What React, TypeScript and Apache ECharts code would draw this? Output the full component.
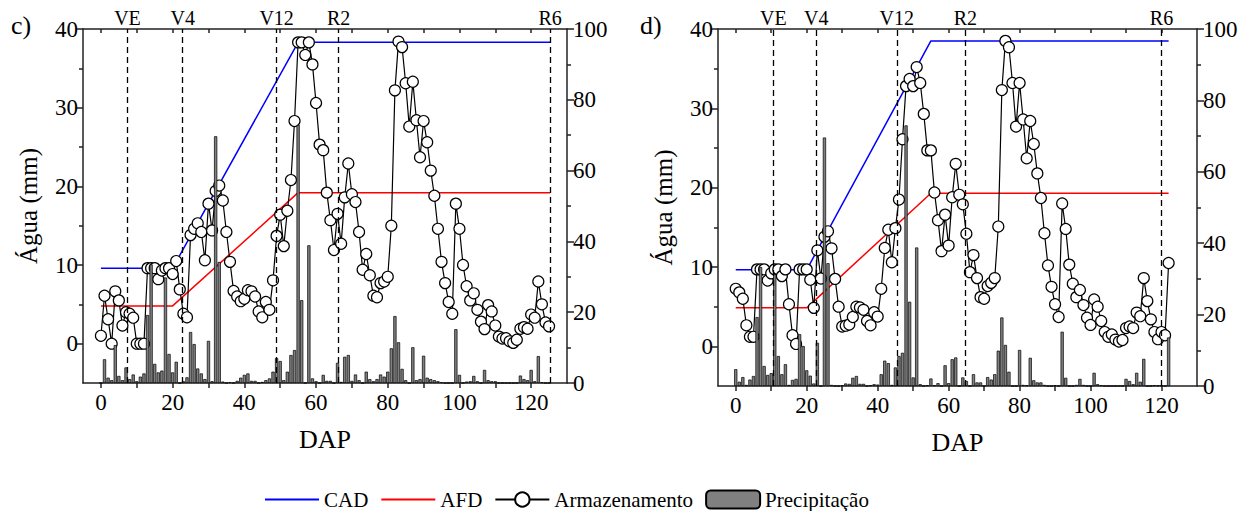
import React, { useEffect, useRef } from "react";
import * as echarts from "echarts";

const FONT = "Liberation Serif, Tinos, Times New Roman, DejaVu Serif, Noto Serif, serif";

// ---------- data ----------
const panelLabels = ["c)", "d)"];
const phaseNames = ["VE", "V4", "V12", "R2", "R6"];
const phaseDapC = [7.4, 22.8, 49.0, 66.3, 125.3];
const phaseDapD = [10.6, 22.7, 45.4, 64.7, 120.0];

const limitDapC = [0, 20, 55, 125.3];
const cadC = [9.6, 9.6, 38.3, 38.3];
const afdC = [4.8, 4.8, 19.2, 19.2];
const limitDapD = [0, 20, 55, 122];
const cadD = [9.65, 9.65, 38.5, 38.5];
const afdD = [4.85, 4.85, 19.3, 19.3];

// Armazenamento (mm), DAP 0..125 (panel c)
const storageC = [
  1.0, 6.1, 3.1, 0.0, 6.65, 5.5, 2.3, 4.0, 3.8, 3.3,
  0.0, 0.0, 0.0, 9.6, 9.6, 9.6, 8.2, 9.3, 9.6, 9.6,
  8.85, 10.5, 6.9, 3.8, 3.35, 13.8, 14.6, 15.3, 14.2, 10.6,
  17.8, 14.4, 19.4, 20.1, 18.2, 14.2, 10.4, 6.7, 6.0, 5.4,
  5.7, 6.8, 6.65, 6.0, 4.1, 3.35, 5.3, 4.3, 8.05, 13.7,
  16.4, 12.4, 16.9, 20.8, 28.3, 38.3, 38.3, 36.7, 38.3, 35.5,
  30.6, 25.3, 24.6, 19.2, 15.7, 11.9, 16.5, 12.7, 18.6, 22.9,
  19.0, 18.0, 14.2, 9.4, 11.4, 8.7, 6.1, 5.9, 7.7, 7.9,
  8.5, 15.0, 32.2, 38.4, 37.7, 33.1, 27.6, 33.3, 28.4, 23.7,
  28.3, 25.6, 22.0, 18.8, 14.6, 10.4, 7.7, 5.3, 3.8, 17.8,
  14.6, 10.0, 7.3, 5.5, 6.4, 4.3, 2.8, 1.85, 4.9, 4.1,
  2.3, 0.9, 0.66, 0.7, 0.3, 0.1, 0.5, 1.9, 2.1, 1.9,
  3.7, 3.3, 7.9, 5.0, 2.7, 2.2,
];

// Precipitação (mm), DAP 0..125 (panel c)
const precipC = [
  0, 6.7, 1.5, 0.8, 10.7, 2.0, 0.8, 4.4, 1.1, 2.4,
  0.5, 1.8, 2.7, 19.2, 33.5, 5.4, 3.0, 3.5, 29.8, 8.2,
  3.0, 6.0, 0, 0.5, 1.6, 14.4, 11.0, 4.1, 2.7, 1.1,
  11.9, 0.5, 69.7, 34.2, 0.4, 0, 0.2, 0, 0.6, 1.5,
  2.3, 2.7, 0.6, 0.6, 0, 0.3, 0.8, 1.3, 3.2, 7.0,
  6.2, 0.8, 3.2, 7.9, 9.3, 72.9, 23.4, 0, 38.9, 1.3,
  0.5, 0, 2.3, 0.6, 0.6, 0, 5.7, 0.3, 7.4, 7.9,
  0.6, 2.4, 0.8, 0, 3.2, 1.1, 0.5, 1.1, 2.4, 1.8,
  3.2, 9.8, 18.9, 11.5, 4.0, 0.8, 0, 10.1, 0.8, 1.1,
  7.7, 1.5, 1.1, 0.8, 0.5, 0.2, 0, 0, 0, 15.2,
  2.3, 0, 0.4, 0.5, 2.0, 0.5, 0, 3.7, 0.8, 0.5,
  0.5, 0, 0, 0, 0, 0, 0, 2.1, 1.1, 0.8,
  3.7, 0.5, 7.6, 0.2, 0, 0,
];

// Armazenamento (mm), DAP 0..122 (panel d)
const storageD = [
  7.25, 6.8, 6.0, 2.65, 1.2, 1.2, 9.7, 9.7, 9.7, 8.3,
  9.2, 9.7, 9.7, 8.85, 9.7, 5.3, 1.4, 0.3, 9.7, 9.7,
  9.7, 8.4, 4.85, 12.1, 8.55, 13.8, 14.5, 12.35, 8.5, 5.0,
  2.5, 2.6, 2.75, 3.7, 5.0, 4.9, 4.6, 3.2, 2.65, 4.3,
  3.75, 7.25, 12.4, 14.7, 10.6, 14.9, 18.5, 26.1, 32.8, 33.7,
  32.8, 35.2, 33.2, 29.3, 24.7, 24.7, 19.4, 15.9, 12.0, 16.6,
  12.7, 18.8, 23.0, 19.1, 17.9, 14.2, 9.35, 11.5, 8.6, 6.2,
  6.0, 7.6, 8.0, 8.6, 15.1, 32.3, 38.5, 37.7, 33.2, 27.7,
  33.2, 28.6, 23.7, 28.4, 25.5, 21.8, 18.7, 14.25, 10.2, 7.5,
  5.3, 3.7, 18.0, 14.8, 10.3, 7.9, 6.2, 7.1, 5.2, 3.6,
  2.7, 5.9, 5.0, 3.2, 1.8, 1.2, 1.5, 0.85, 0.6, 0.8,
  2.3, 2.5, 2.3, 4.25, 3.8, 8.6, 5.7, 3.4, 1.8, 0.9,
  1.8, 1.4, 10.5,
];

// Precipitação (mm), DAP 0..122 (panel d)
const precipD = [
  4.7, 1.2, 2.5, 0.3, 1.8, 2.8, 19.3, 33.3, 5.6, 3.1,
  3.6, 31.3, 8.4, 3.3, 6.1, 0.3, 1.7, 2.0, 14.5, 11.2,
  4.4, 2.9, 0.7, 12.1, 0, 69.6, 34.4, 0.3, 0, 0,
  0.2, 0.7, 0.6, 2.3, 2.8, 0.6, 0.6, 0, 0.2, 0.5,
  0.4, 3.3, 7.1, 6.4, 0.3, 5.2, 8.4, 9.3, 73.0, 23.6,
  2.4, 38.8, 0.5, 0, 0.2, 2.1, 0.2, 0.8, 0, 5.8,
  0.8, 7.5, 8.0, 0, 2.4, 1.4, 0, 3.3, 1.0, 1.0,
  0, 2.5, 1.8, 3.3, 9.9, 19.2, 11.5, 4.0, 0, 0,
  10.1, 0.3, 0.2, 7.9, 1.6, 1.0, 1.0, 0.3, 0, 0,
  0.2, 0, 15.2, 2.3, 0, 0, 0.3, 2.0, 0.3, 0,
  0, 3.7, 0.5, 0.2, 0, 0, 0, 0, 0, 0,
  2.0, 1.4, 0.5, 3.7, 1.2, 7.6, 0, 0, 0.2, 0.1,
  0.1, 0, 13.6,
];

// tick values
const xLabelValues = [0, 20, 40, 60, 80, 100, 120];
const xTickValues = [0, 10, 20, 30, 40, 50, 60, 70, 80, 90, 100, 110, 120];
const yLeftValues = [0, 10, 20, 30, 40];
const yLeftMinor = [5, 15, 25, 35];
const legendNames = ["CAD", "AFD", "Armazenamento", "Precipitação"];

const AX = { color: "#222", width: 1.5 };

function App() {
  const ref = useRef<HTMLDivElement>(null);

  useEffect(() => {
    if (!ref.current) return;
    const chart = echarts.init(ref.current, null, { renderer: "svg" });

    const grids = [
      { left: 83, top: 29, width: 484, height: 354 },
      { left: 718, top: 29, width: 479, height: 357 },
    ];

    const xAxes: any[] = [];
    const yAxes: any[] = [];
    const series: any[] = [];

    const panels = [
      { storage: storageC, precip: precipC, lx: limitDapC, cad: cadC, afd: afdC, ph: phaseDapC },
      { storage: storageD, precip: precipD, lx: limitDapD, cad: cadD, afd: afdD, ph: phaseDapD },
    ];

    panels.forEach((pd, p) => {
      xAxes.push({
        gridIndex: p,
        type: "value",
        position: "bottom",
        min: -5,
        max: 130,
        axisLine: { show: true, onZero: false, lineStyle: AX },
        axisTick: { show: true, customValues: xTickValues, length: 5, lineStyle: AX },
        axisLabel: {
          customValues: xLabelValues,
          fontSize: 23,
          color: "#000",
          fontFamily: FONT,
          margin: 8,
        },
        splitLine: { show: false },
        name: "DAP",
        nameLocation: "middle",
        nameGap: 43,
        nameTextStyle: { fontSize: 26, color: "#000", fontFamily: FONT },
      });
      xAxes.push({
        gridIndex: p,
        type: "value",
        position: "top",
        min: -5,
        max: 130,
        axisLine: { show: true, onZero: false, lineStyle: AX },
        axisTick: { show: true, inside: true, customValues: xTickValues, length: 4, lineStyle: AX },
        axisLabel: { show: false },
        splitLine: { show: false },
      });
      yAxes.push({
        gridIndex: p,
        type: "value",
        position: "left",
        min: -5,
        max: 40,
        axisLine: { show: true, onZero: false, lineStyle: AX },
        axisTick: { show: true, customValues: yLeftValues, length: 7, lineStyle: AX },
        axisLabel: {
          customValues: yLeftValues,
          fontSize: 23,
          color: "#000",
          fontFamily: FONT,
          margin: 5,
        },
        splitLine: { show: false },
        name: "Água (mm)",
        nameLocation: "middle",
        nameGap: 42,
        nameTextStyle: { fontSize: 25, color: "#000", fontFamily: FONT },
      });
      yAxes.push({
        gridIndex: p,
        type: "value",
        position: "right",
        min: 0,
        max: 100,
        interval: 20,
        axisLine: { show: true, onZero: false, lineStyle: AX },
        axisTick: { show: true, length: 7, lineStyle: AX },
        minorTick: { show: true, splitNumber: 2, length: 4, lineStyle: AX },
        axisLabel: { fontSize: 23, color: "#000", fontFamily: FONT, margin: 6 },
        splitLine: { show: false },
        minorSplitLine: { show: false },
      });
      yAxes.push({
        gridIndex: p,
        type: "value",
        position: "left",
        min: -5,
        max: 40,
        axisLine: { show: false, onZero: false },
        axisTick: { show: true, customValues: yLeftMinor, length: 4, lineStyle: AX },
        axisLabel: { show: false },
        splitLine: { show: false },
      });

      const xb = 2 * p;
      const yl = 3 * p;
      const yr = 3 * p + 1;

      series.push({
        name: "CAD",
        type: "line",
        xAxisIndex: xb,
        yAxisIndex: yl,
        data: pd.lx.map((x, i) => [x, pd.cad[i]]),
        symbol: "none",
        lineStyle: { color: "#0000ff", width: 1.5 },
        itemStyle: { color: "#0000ff" },
        z: 2,
      });
      series.push({
        name: "AFD",
        type: "line",
        xAxisIndex: xb,
        yAxisIndex: yl,
        data: pd.lx.map((x, i) => [x, pd.afd[i]]),
        symbol: "none",
        lineStyle: { color: "#ff0000", width: 1.5 },
        itemStyle: { color: "#ff0000" },
        z: 2,
      });
      series.push({
        name: "Armazenamento",
        type: "line",
        xAxisIndex: xb,
        yAxisIndex: yl,
        data: pd.storage.map((v, i) => [i, v]),
        symbol: "circle",
        symbolSize: 11,
        itemStyle: { color: "#ffffff", borderColor: "#000", borderWidth: 1.2 },
        lineStyle: { color: "#000", width: 1.2 },
        z: 3,
        markLine: {
          silent: true,
          symbol: ["none", "none"],
          lineStyle: { color: "#000", type: [6, 4], width: 1.3 },
          label: {
            show: true,
            position: "end",
            formatter: "{b}",
            color: "#000",
            fontFamily: FONT,
            fontSize: 20,
            distance: 1,
          },
          data: pd.ph.map((x, i) => ({ name: phaseNames[i], xAxis: x })),
        },
      });
      series.push({
        name: "Precipitação",
        type: "bar",
        xAxisIndex: xb,
        yAxisIndex: yr,
        data: pd.precip.map((v, i) => [i, v]),
        barWidth: 3.2,
        itemStyle: { color: "#808080", borderColor: "#000", borderWidth: 0.7 },
        z: 4,
      });
    });

    const option: any = {
      animation: false,
      backgroundColor: "#ffffff",
      grid: grids,
      xAxis: xAxes,
      yAxis: yAxes,
      series,
      legend: {
        data: [
          { name: legendNames[0], itemStyle: { opacity: 0 } },
          { name: legendNames[1], itemStyle: { opacity: 0 } },
          { name: legendNames[2] },
          { name: legendNames[3] },
        ],
        left: 259,
        top: 484,
        itemWidth: 54,
        itemHeight: 18,
        itemGap: 12,
        textStyle: { fontSize: 21, color: "#000", fontFamily: FONT },
      },
      graphic: [
        { type: "text", left: 11, top: 12, style: { text: panelLabels[0], fontSize: 26, fontFamily: FONT, fill: "#000" } },
        { type: "text", left: 640, top: 12, style: { text: panelLabels[1], fontSize: 26, fontFamily: FONT, fill: "#000" } },
      ],
    };

    chart.setOption(option);
    return () => chart.dispose();
  }, []);

  return (
    <div
      ref={ref}
      style={{ position: "fixed", left: 0, top: 0, width: 1241, height: 511, background: "#fff" }}
    />
  );
}

export default App;
